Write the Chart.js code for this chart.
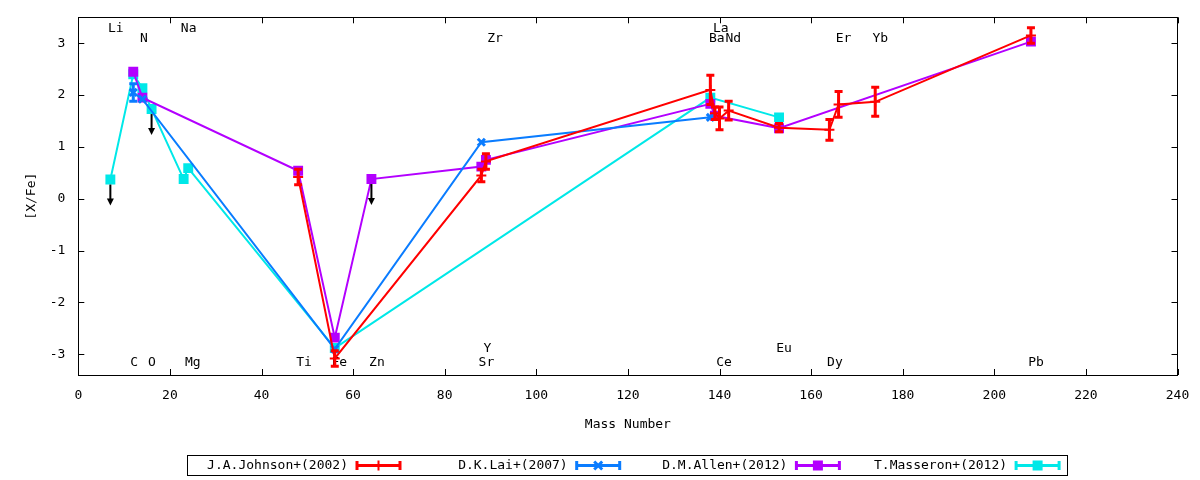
<!DOCTYPE html>
<html><head><meta charset="utf-8">
<script src="https://cdn.jsdelivr.net/npm/chart.js@4.4.0/dist/chart.umd.min.js"></script>
<style>html,body{margin:0;padding:0;background:#fff;}canvas{display:block;}</style>
</head><body>
<canvas id="c" width="1200" height="480"></canvas>
<script>
// ---- tick labels ----
const xTicks = [0,20,40,60,80,100,120,140,160,180,200,220,240];
const yTicks = [-3,-2,-1,0,1,2,3];

// ---- series ----
const seriesNames = ['J.A.Johnson+(2002)','D.K.Lai+(2007)','D.M.Allen+(2012)','T.Masseron+(2012)'];

const johnsonMass = [48, 56, 88, 89, 138, 139, 140, 142, 153, 164, 166, 174, 208];
const johnsonVal  = [0.42, -3.08, 0.45, 0.72, 2.10, 1.65, 1.55, 1.70, 1.37, 1.33, 1.82, 1.87, 3.15];
const johnsonErr  = [0.15, 0.15, 0.12, 0.15, 0.28, 0.12, 0.22, 0.18, 0.08, 0.20, 0.25, 0.28, 0.15];
const johnsonUL   = [0,0,0,0,0,0,0,0,0,0,0,0,0];

const laiMass = [12, 14, 56, 88, 138];
const laiVal  = [2.05, 1.92, -2.90, 1.09, 1.57];
const laiErr  = [0.17, 0, 0, 0, 0];
const laiUL   = [0,0,0,0,0];

const allenMass = [12, 14, 48, 56, 64, 88, 89, 138, 139, 153, 208];
const allenVal  = [2.45, 1.95, 0.54, -2.68, 0.38, 0.62, 0.75, 1.83, 1.60, 1.36, 3.03];
const allenErr  = [0,0,0,0,0,0,0,0,0,0,0];
const allenUL   = [0,0,0,0,1,0,0,0,0,0,0];

const masseronMass = [7, 12, 14, 16, 23, 24, 56, 138, 153];
const masseronVal  = [0.37, 2.40, 2.13, 1.73, 0.38, 0.59, -2.88, 1.95, 1.57];
const masseronErr  = [0,0,0,0,0,0,0,0,0];
const masseronUL   = [1,0,0,1,0,0,0,0,0];

// ---- element labels ----
const elemTop  = ['Li','N','Na','Zr','La','Ba','Nd','Er','Yb'];
const elemTopX = [8.2, 14.3, 24.1, 91.0, 140.3, 139.4, 143.0, 167.1, 175.1];
const elemTopY = [3.285, 3.09, 3.285, 3.09, 3.285, 3.09, 3.09, 3.09, 3.09];
const elemBot  = ['C','O','Mg','Ti','Fe','Zn','Y','Sr','Ce','Eu','Dy','Pb'];
const elemBotX = [12.2, 16.1, 25.0, 49.3, 57.0, 65.2, 89.3, 89.1, 141.0, 154.1, 165.2, 209.1];
const elemBotY = [-3.16, -3.16, -3.16, -3.16, -3.16, -3.16, -2.90, -3.16, -3.16, -2.90, -3.16, -3.16];

const colors = ['#ff0000', '#0a7cff', '#b300ff', '#00e8e8'];
const FONT = '13px "DejaVu Sans Mono"';

const allMass = [johnsonMass, laiMass, allenMass, masseronMass];
const allVal  = [johnsonVal, laiVal, allenVal, masseronVal];
const allErr  = [johnsonErr, laiErr, allenErr, masseronErr];
const allUL   = [johnsonUL, laiUL, allenUL, masseronUL];
const pStyle  = ['cross', 'crossRot', 'rect', 'rect'];
const pRad    = [5, 5, 7, 7];
const pBW     = [2, 3, 0, 0];

const datasets = seriesNames.map((name, i) => ({
  label: name,
  data: allMass[i].map((m, j) => ({x: m, y: allVal[i][j]})),
  showLine: true,
  borderColor: colors[i],
  backgroundColor: colors[i],
  borderWidth: 2,
  pointStyle: pStyle[i],
  pointRadius: pRad[i],
  pointBorderWidth: pBW[i],
  pointHoverRadius: pRad[i],
  tension: 0
}));

function drawMarker(ctx, style, x, y, color) {
  ctx.save();
  ctx.fillStyle = color; ctx.strokeStyle = color;
  if (style === 'rect') {
    ctx.fillRect(x - 5, y - 5, 10, 10);
  } else if (style === 'cross') {
    ctx.lineWidth = 2;
    ctx.beginPath(); ctx.moveTo(x - 5, y); ctx.lineTo(x + 5, y); ctx.moveTo(x, y - 5); ctx.lineTo(x, y + 5); ctx.stroke();
  } else {
    ctx.lineWidth = 3;
    ctx.beginPath(); ctx.moveTo(x - 4, y - 4); ctx.lineTo(x + 4, y + 4); ctx.moveTo(x + 4, y - 4); ctx.lineTo(x - 4, y + 4); ctx.stroke();
  }
  ctx.restore();
}

const framePlugin = {
  id: 'frame',
  beforeDatasetsDraw(chart) {
    const {ctx, scales: {x, y}} = chart;
    ctx.save();
    ctx.fillStyle = '#000';
    ctx.font = FONT;
    ctx.textAlign = 'center'; ctx.textBaseline = 'middle';
    elemTop.forEach((t, i) => ctx.fillText(t, x.getPixelForValue(elemTopX[i]), y.getPixelForValue(elemTopY[i])));
    elemBot.forEach((t, i) => ctx.fillText(t, x.getPixelForValue(elemBotX[i]), y.getPixelForValue(elemBotY[i])));
    ctx.restore();
  },
  afterDatasetDraw(chart, args) {
    const i = args.index;
    const {ctx, scales: {x, y}} = chart;
    const err = allErr[i];
    ctx.save();
    ctx.strokeStyle = colors[i];
    ctx.lineWidth = 3;
    allMass[i].forEach((m, j) => {
      const e = err[j];
      if (!e) return;
      const px = x.getPixelForValue(m);
      const y1 = y.getPixelForValue(allVal[i][j] + e);
      const y2 = y.getPixelForValue(allVal[i][j] - e);
      ctx.beginPath();
      ctx.moveTo(px, y1); ctx.lineTo(px, y2);
      ctx.moveTo(px - 4, y1); ctx.lineTo(px + 4, y1);
      ctx.moveTo(px - 4, y2); ctx.lineTo(px + 4, y2);
      ctx.stroke();
    });
    ctx.restore();
  },
  afterDatasetsDraw(chart) {
    const {ctx, chartArea: a, scales: {x, y}} = chart;
    ctx.save();
    ctx.strokeStyle = '#000'; ctx.fillStyle = '#000'; ctx.lineWidth = 2;
    allUL.forEach((ul, i) => {
      ul.forEach((f, j) => {
        if (!f) return;
        const px = x.getPixelForValue(allMass[i][j]);
        const py = y.getPixelForValue(allVal[i][j]);
        const pe = y.getPixelForValue(allVal[i][j] - 0.5);
        ctx.beginPath(); ctx.moveTo(px, py + 5); ctx.lineTo(px, pe - 5); ctx.stroke();
        ctx.beginPath(); ctx.moveTo(px - 3.5, pe - 7); ctx.lineTo(px + 3.5, pe - 7); ctx.lineTo(px, pe); ctx.closePath(); ctx.fill();
      });
    });
    ctx.strokeStyle = '#000'; ctx.lineWidth = 1;
    ctx.strokeRect(Math.round(a.left) + 0.5, Math.round(a.top) + 0.5, Math.round(a.right - a.left), Math.round(a.bottom - a.top));
    ctx.beginPath();
    xTicks.forEach(v => {
      const px = Math.round(x.getPixelForValue(v)) + 0.5;
      ctx.moveTo(px, a.bottom); ctx.lineTo(px, a.bottom - 6);
      ctx.moveTo(px, a.top); ctx.lineTo(px, a.top + 6);
    });
    yTicks.forEach(v => {
      const py = Math.round(y.getPixelForValue(v)) + 0.5;
      ctx.moveTo(a.left, py); ctx.lineTo(a.left + 6, py);
      ctx.moveTo(a.right, py); ctx.lineTo(a.right - 6, py);
    });
    ctx.stroke();
    ctx.restore();
  },
  afterDraw(chart) {
    const {ctx, chartArea: a} = chart;
    ctx.save();
    ctx.fillStyle = '#000';
    ctx.font = FONT;
    ctx.textAlign = 'center'; ctx.textBaseline = 'middle';
    ctx.fillText('Mass Number', (a.left + a.right) / 2, 425);
    ctx.save();
    ctx.translate(32, (a.top + a.bottom) / 2);
    ctx.rotate(-Math.PI / 2);
    ctx.fillText('[X/Fe]', 0, 0);
    ctx.restore();
    ctx.strokeStyle = '#000'; ctx.lineWidth = 1;
    ctx.strokeRect(187.5, 455.5, 880, 20);
    const ly = 465.5;
    seriesNames.forEach((name, i) => {
      const tr = 348 + i * 219.7;
      ctx.fillStyle = '#000';
      ctx.textAlign = 'right';
      ctx.fillText(name, tr, ly);
      const x1 = tr + 9, x2 = tr + 52;
      ctx.strokeStyle = colors[i]; ctx.lineWidth = 3;
      ctx.beginPath();
      ctx.moveTo(x1, ly); ctx.lineTo(x2, ly);
      ctx.moveTo(x1, ly - 4.5); ctx.lineTo(x1, ly + 4.5);
      ctx.moveTo(x2, ly - 4.5); ctx.lineTo(x2, ly + 4.5);
      ctx.stroke();
      drawMarker(ctx, pStyle[i], (x1 + x2) / 2, ly, colors[i]);
    });
    ctx.restore();
  }
};

function zeroPad(s) { s.paddingLeft = 0; s.paddingRight = 0; s.paddingTop = 0; s.paddingBottom = 0; }

new Chart(document.getElementById('c'), {
  type: 'scatter',
  data: { datasets },
  options: {
    responsive: false,
    animation: false,
    devicePixelRatio: 1,
    layout: { padding: { left: 0, right: 22.5, top: 17.3, bottom: 0 } },
    plugins: { legend: { display: false }, tooltip: { enabled: false } },
    scales: {
      x: {
        type: 'linear', min: 0, max: 240,
        grid: { display: false, drawTicks: false }, border: { display: false },
        afterBuildTicks: s => { s.ticks = xTicks.map(v => ({value: v})); },
        afterFit: s => { s.height = 105; zeroPad(s); },
        ticks: { padding: 13, color: '#000', font: { family: 'DejaVu Sans Mono', size: 13 }, maxRotation: 0, autoSkip: false }
      },
      y: {
        type: 'linear', min: -3.4, max: 3.5,
        grid: { display: false, drawTicks: false }, border: { display: false },
        afterBuildTicks: s => { s.ticks = yTicks.map(v => ({value: v})); },
        afterFit: s => { s.width = 78.3; zeroPad(s); },
        ticks: { padding: 13, color: '#000', font: { family: 'DejaVu Sans Mono', size: 13 }, autoSkip: false }
      }
    }
  },
  plugins: [framePlugin]
});
</script>
</body></html>
